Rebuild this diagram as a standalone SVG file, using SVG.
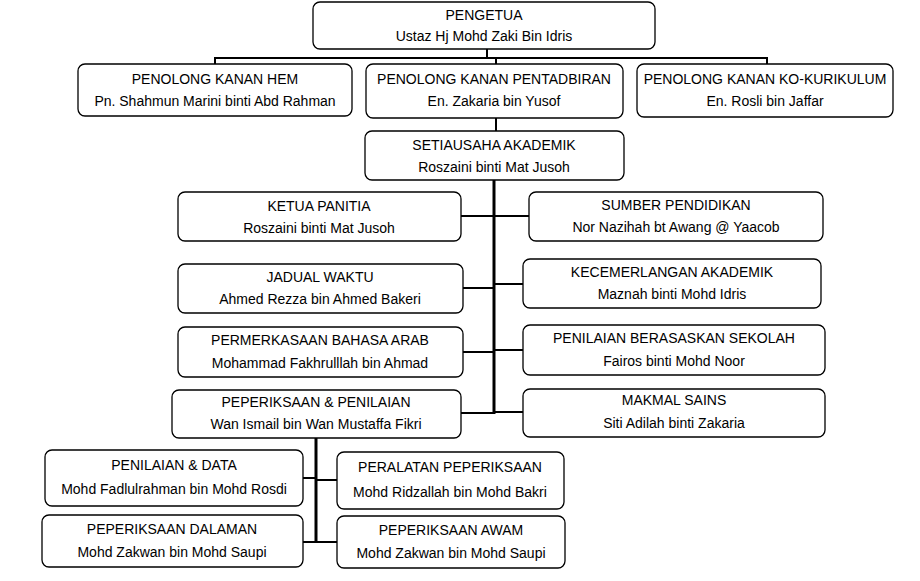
<svg xmlns="http://www.w3.org/2000/svg" width="920" height="581" viewBox="0 0 920 581">
<style>
rect{fill:#fff;stroke:#000;stroke-width:1.3}
text{font-family:"Liberation Sans",Arial,sans-serif;font-size:14px;text-anchor:middle;fill:#000}
.c line{stroke:#000;stroke-width:2}
.t line{stroke:#000;stroke-width:3}
</style>
<rect x="0" y="0" width="920" height="581" style="stroke:none"/>
<g class="c">
<line x1="487" y1="49" x2="487" y2="58"/>
<line x1="215" y1="58" x2="767" y2="58"/>
<line x1="215" y1="57" x2="215" y2="65"/>
<line x1="496" y1="57" x2="496" y2="65"/>
<line x1="767" y1="57" x2="767" y2="65"/>
<line x1="496" y1="118" x2="496" y2="131"/>
<line x1="461" y1="216" x2="494" y2="216"/>
<line x1="463" y1="288" x2="494" y2="288"/>
<line x1="463" y1="352" x2="494" y2="352"/>
<line x1="461" y1="413" x2="494" y2="413"/>
<line x1="494" y1="216" x2="529" y2="216"/>
<line x1="494" y1="284" x2="523" y2="284"/>
<line x1="494" y1="350" x2="523" y2="350"/>
<line x1="494" y1="412" x2="523" y2="412"/>
<line x1="303" y1="478" x2="316" y2="478"/>
<line x1="316" y1="480" x2="337" y2="480"/>
<line x1="303" y1="542" x2="337" y2="542"/>
</g>
<g class="t">
<line x1="494" y1="180" x2="494" y2="414"/>
<line x1="316" y1="438" x2="316" y2="543"/>
</g>
<g id="pengetua"><rect x="313" y="2" width="342" height="47" rx="7"/><text x="484" y="20">PENGETUA</text><text x="484" y="41">Ustaz Hj Mohd Zaki Bin Idris</text></g>
<g id="hem"><rect x="78" y="64" width="274" height="52" rx="7"/><text x="215" y="84">PENOLONG KANAN HEM</text><text x="215" y="106">Pn. Shahmun Marini binti Abd Rahman</text></g>
<g id="pentadbiran"><rect x="366" y="64" width="257" height="54" rx="7"/><text x="494" y="84">PENOLONG KANAN PENTADBIRAN</text><text x="494" y="106">En. Zakaria bin Yusof</text></g>
<g id="kokurikulum"><rect x="637" y="64" width="256" height="53" rx="7"/><text x="765" y="84">PENOLONG KANAN KO-KURIKULUM</text><text x="765" y="106">En. Rosli bin Jaffar</text></g>
<g id="setiausaha"><rect x="365" y="131" width="259" height="49" rx="7"/><text x="494" y="150">SETIAUSAHA AKADEMIK</text><text x="494" y="172">Roszaini binti Mat Jusoh</text></g>
<g id="ketua"><rect x="178" y="192" width="283" height="49" rx="7"/><text x="319" y="211">KETUA PANITIA</text><text x="319" y="233">Roszaini binti Mat Jusoh</text></g>
<g id="jadual"><rect x="178" y="264" width="285" height="49" rx="7"/><text x="320" y="282">JADUAL WAKTU</text><text x="320" y="304">Ahmed Rezza bin Ahmed Bakeri</text></g>
<g id="permerkasaan"><rect x="178" y="327" width="285" height="50" rx="7"/><text x="320" y="345">PERMERKASAAN BAHASA ARAB</text><text x="320" y="368">Mohammad Fakhrulllah bin Ahmad</text></g>
<g id="peperiksaan"><rect x="172" y="390" width="289" height="48" rx="7"/><text x="316" y="407">PEPERIKSAAN &amp; PENILAIAN</text><text x="316" y="429">Wan Ismail bin Wan Mustaffa Fikri</text></g>
<g id="sumber"><rect x="529" y="192" width="294" height="49" rx="7"/><text x="676" y="210">SUMBER PENDIDIKAN</text><text x="676" y="232">Nor Nazihah bt  Awang @ Yaacob</text></g>
<g id="kecemerlangan"><rect x="523" y="259" width="298" height="49" rx="7"/><text x="672" y="277">KECEMERLANGAN AKADEMIK</text><text x="672" y="299">Maznah binti Mohd Idris</text></g>
<g id="pbs"><rect x="523" y="325" width="302" height="50" rx="7"/><text x="674" y="343">PENILAIAN BERASASKAN SEKOLAH</text><text x="674" y="366">Fairos binti Mohd Noor</text></g>
<g id="makmal"><rect x="523" y="389" width="302" height="48" rx="7"/><text x="674" y="405">MAKMAL SAINS</text><text x="674" y="428">Siti Adilah binti Zakaria</text></g>
<g id="penilaiandata"><rect x="45" y="450" width="258" height="56" rx="7"/><text x="174" y="470">PENILAIAN &amp; DATA</text><text x="174" y="494">Mohd Fadlulrahman bin Mohd Rosdi</text></g>
<g id="peralatan"><rect x="337" y="452" width="227" height="57" rx="7"/><text x="450" y="472">PERALATAN PEPERIKSAAN</text><text x="450" y="497">Mohd Ridzallah bin Mohd Bakri</text></g>
<g id="dalaman"><rect x="42" y="515" width="261" height="52" rx="7"/><text x="172" y="534">PEPERIKSAAN DALAMAN</text><text x="172" y="557">Mohd Zakwan bin Mohd Saupi</text></g>
<g id="awam"><rect x="337" y="516" width="228" height="52" rx="7"/><text x="451" y="535">PEPERIKSAAN AWAM</text><text x="451" y="558">Mohd Zakwan bin Mohd Saupi</text></g>
</svg>
